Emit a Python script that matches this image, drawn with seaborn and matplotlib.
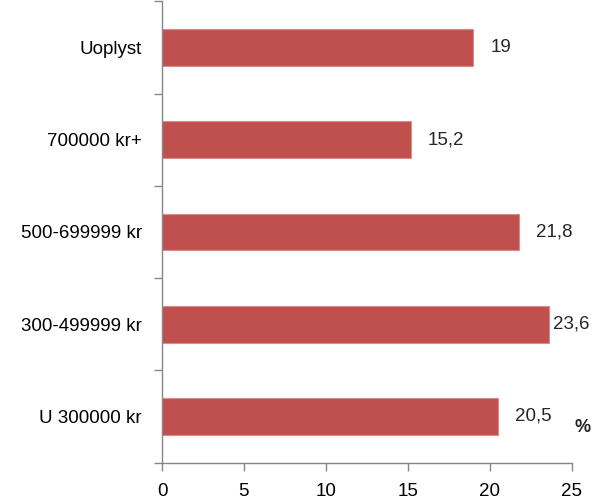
import matplotlib
matplotlib.use("Agg")
import matplotlib.pyplot as plt
import seaborn as sns
import pandas as pd

# data
categories = ["Uoplyst", "700000 kr+", "500-699999 kr", "300-499999 kr", "U 300000 kr"]
values = [19, 15.2, 21.8, 23.6, 20.5]
value_labels = ["19", "15,2", "21,8", "23,6", "20,5"]
x_ticks = [0, 5, 10, 15, 20, 25]

# gap between bar end and its label, in pixels (23,6 sits tight to the bar)
label_gap_px = [17, 17, 17, 4, 17]

sns.set_style("white")
plt.rcParams["font.family"] = ["Liberation Sans", "DejaVu Sans"]

bar_color = "#C0504D"
axis_color = "#868686"
fs = 13.5

df = pd.DataFrame({"kategori": categories, "andel": values})

fig = plt.figure(figsize=(5.95, 4.96), dpi=100)
ax = fig.add_axes([162 / 595, 1 - 462.5 / 496, (571.7 - 162) / 595, (462.5 - 1.5) / 496])

sns.barplot(data=df, y="kategori", x="andel", orient="h", color=bar_color,
            saturation=1, width=0.4, edgecolor="#D98C8A", linewidth=0.8, ax=ax)

ax.set_xlim(0, 25)
ax.set_ylim(len(categories) - 0.5, -0.5)
ax.set_xlabel("")
ax.set_ylabel("")

for side in ["top", "right"]:
    ax.spines[side].set_visible(False)
for side in ["left", "bottom"]:
    ax.spines[side].set_color(axis_color)
    ax.spines[side].set_linewidth(1)

# category labels at centres, tick marks at the boundaries
ax.set_yticks(range(len(categories)))
ax.set_yticklabels(categories)
ax.set_yticks([i - 0.5 for i in range(len(categories) + 1)], minor=True)
ax.tick_params(axis="y", which="major", left=True, length=0, pad=14.5,
               labelsize=fs, colors="black")
ax.tick_params(axis="y", which="minor", left=True, length=6, width=1,
               color=axis_color, direction="out")

ax.set_xticks(x_ticks)
ax.set_xticklabels([str(t) for t in x_ticks])
ax.tick_params(axis="x", which="major", bottom=True, length=6, width=1, color=axis_color,
               direction="out", pad=9, labelsize=fs, labelcolor="black")

for i, (v, lbl) in enumerate(zip(values, value_labels)):
    ax.annotate(lbl, xy=(v, i), xytext=(label_gap_px[i] * 0.72, 0),
                textcoords="offset points", ha="left", va="center", fontsize=fs)

fig.text(583 / 595, 1 - 427 / 496, "%", ha="center", va="center",
         fontsize=13, fontweight="bold")

fig.savefig("out.png", dpi=100)
